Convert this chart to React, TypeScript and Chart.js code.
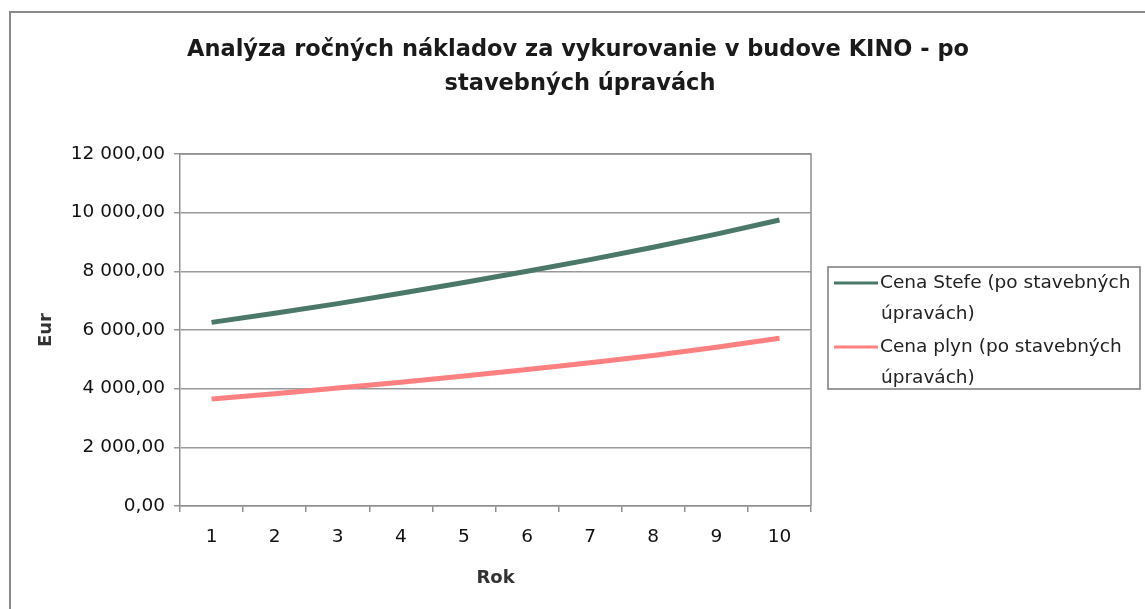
import React, { useEffect, useRef } from "react";
import { Chart, registerables } from "chart.js";

Chart.register(...registerables);

const years = ["1", "2", "3", "4", "5", "6", "7", "8", "9", "10"];
const stefeValues = [6260, 6570, 6900, 7250, 7620, 8000, 8400, 8820, 9270, 9750];
const plynValues = [3650, 3830, 4020, 4220, 4430, 4650, 4880, 5130, 5410, 5720];
const titleLines = [
  "Analýza ročných nákladov za vykurovanie v budove KINO - po",
  "stavebných úpravách",
];
const legendLabels = [
  ["Cena Stefe (po stavebných", "úpravách)"],
  ["Cena plyn (po stavebných", "úpravách)"],
];
const seriesColors = ["#4b7868", "#ff8080"];
const yTitle = "Eur";
const xTitle = "Rok";

const FONT = "'DejaVu Sans', 'Liberation Sans', Arial, sans-serif";

function fmt(v: number): string {
  const s = Math.round(v).toString().replace(/\B(?=(\d{3})+(?!\d))/g, " ");
  return s + ",00";
}

const decorPlugin = {
  id: "decor",
  beforeDraw(chart: any) {
    const { ctx, width, height } = chart;
    ctx.save();
    ctx.fillStyle = "#fff";
    ctx.fillRect(0, 0, width, height);
    ctx.strokeStyle = "#8a8a8a";
    ctx.lineWidth = 2;
    ctx.beginPath();
    ctx.moveTo(10, height);
    ctx.lineTo(10, 12);
    ctx.lineTo(width, 12);
    ctx.stroke();
    ctx.restore();
  },
  afterDraw(chart: any) {
    const { ctx, chartArea } = chart;
    ctx.save();
    // plot border top/right
    ctx.strokeStyle = "#8f8f8f";
    ctx.lineWidth = 1.5;
    ctx.beginPath();
    ctx.moveTo(chartArea.left, chartArea.top);
    ctx.lineTo(chartArea.right, chartArea.top);
    ctx.lineTo(chartArea.right, chartArea.bottom);
    ctx.stroke();

    // title
    ctx.fillStyle = "#1a1a1a";
    ctx.font = `bold 22.5px ${FONT}`;
    ctx.textAlign = "center";
    ctx.textBaseline = "middle";
    ctx.fillText(titleLines[0], 578, 50);
    ctx.fillText(titleLines[1], 580, 84);

    // legend
    ctx.fillStyle = "#fff";
    ctx.fillRect(828, 267, 312, 122);
    ctx.strokeStyle = "#7a7a7a";
    ctx.lineWidth = 1.5;
    ctx.strokeRect(828, 267, 312, 122);
    const rows = [
      [283, 314],
      [347, 378],
    ];
    ctx.font = `18.5px ${FONT}`;
    ctx.textAlign = "left";
    ctx.textBaseline = "middle";
    legendLabels.forEach((lines, i) => {
      const [y1, y2] = rows[i];
      ctx.strokeStyle = seriesColors[i];
      ctx.lineWidth = 3;
      ctx.beginPath();
      ctx.moveTo(834, y1);
      ctx.lineTo(878, y1);
      ctx.stroke();
      ctx.fillStyle = "#222";
      ctx.fillText(lines[0], 880, y1);
      ctx.fillText(lines[1], 881, y2);
    });
    ctx.restore();
  },
};

export default function App() {
  const ref = useRef<HTMLCanvasElement>(null);
  useEffect(() => {
    if (!ref.current) return;
    const chart = new Chart(ref.current, {
      type: "line",
      data: {
        labels: years,
        datasets: [
          {
            label: legendLabels[0].join(" "),
            data: stefeValues,
            borderColor: seriesColors[0],
            backgroundColor: seriesColors[0],
            borderWidth: 5,
            pointRadius: 0,
            tension: 0,
          },
          {
            label: legendLabels[1].join(" "),
            data: plynValues,
            borderColor: seriesColors[1],
            backgroundColor: seriesColors[1],
            borderWidth: 5,
            pointRadius: 0,
            tension: 0,
          },
        ],
      },
      options: {
        responsive: false,
        animation: false,
        devicePixelRatio: 1,
        layout: { padding: { left: 14, right: 334, top: 154, bottom: 0 } },
        plugins: {
          legend: { display: false },
          title: { display: false },
          tooltip: { enabled: false },
        },
        scales: {
          x: {
            type: "category",
            offset: true,
            grid: {
              offset: true,
              drawOnChartArea: false,
              drawTicks: true,
              tickLength: 6,
              color: "#8f8f8f",
              lineWidth: 1.5,
            },
            border: { color: "#8f8f8f", width: 1.5 },
            ticks: {
              color: "#111",
              font: { family: FONT, size: 18.5 },
              padding: 14,
              maxRotation: 0,
            },
            title: {
              display: true,
              text: xTitle,
              color: "#333",
              font: { family: FONT, size: 18, weight: "bold" },
              padding: { top: 0, bottom: 20 },
            },
            afterFit: (s: any) => {
              s.height = 103;
            },
          },
          y: {
            min: 0,
            max: 12000,
            ticks: {
              stepSize: 2000,
              color: "#111",
              font: { family: FONT, size: 18.5 },
              padding: 9,
              callback: (v: any) => fmt(Number(v)),
            },
            grid: {
              color: "#9a9a9a",
              lineWidth: 1.5,
              drawTicks: true,
              tickLength: 6,
            },
            border: { color: "#8f8f8f", width: 1.5 },
            title: {
              display: true,
              text: yTitle,
              color: "#333",
              font: { family: FONT, size: 18, weight: "bold" },
              padding: { top: 22, bottom: 0 },
            },
            afterFit: (s: any) => {
              s.width = 166;
            },
          },
        },
      },
      plugins: [decorPlugin],
    });
    return () => chart.destroy();
  }, []);
  return (
    <div style={{ position: "fixed", left: 0, top: 0, width: 1145, height: 609, background: "#fff" }}>
      <canvas ref={ref} width={1145} height={609} style={{ display: "block" }} />
    </div>
  );
}
